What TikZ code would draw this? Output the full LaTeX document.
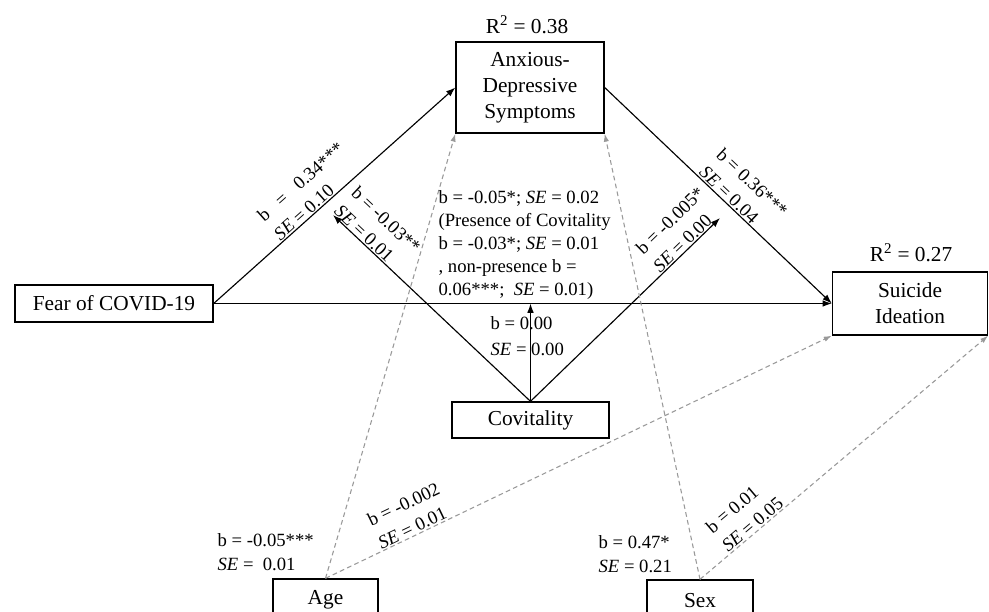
\documentclass[tikz,border=0pt]{standalone}
\usepackage{fontspec}
\setmainfont{Liberation Serif}
\usetikzlibrary{arrows.meta}
\definecolor{dgray}{HTML}{999999}
\newcommand{\boxfont}{\fontsize{16}{19.5}\selectfont}
\newcommand{\labfont}{\fontsize{14}{18.5}\selectfont}
\begin{document}
\begin{tikzpicture}[x=0.75pt,y=-0.75pt,
  box/.style={draw,line width=1pt,inner sep=0pt,align=center,font=\boxfont},
  lab/.style={font=\labfont,align=left,inner sep=1pt},
  conn/.style={line width=0.85pt,-{Latex[length=7pt,width=5pt]}},
  ctrl/.style={dgray,line width=0.8pt,dash pattern=on 3.5pt off 2.5pt,-{Latex[length=6pt,width=4pt]}}]
\clip (0,0) rectangle (989,611);
\fill[white] (0,0) rectangle (989,611);
% boxes
\node[box,minimum width=148.5pt,minimum height=27.75pt] (fear) at (114,303.5) {Fear of COVID-19};
\node[box,minimum width=111pt,minimum height=68.25pt] (anx) at (530,87.5) {Anxious-\\Depressive\\Symptoms};
\node[box,minimum width=116.25pt,minimum height=47.25pt] (sui) at (910,303.5) {Suicide\\Ideation};
\node[box,minimum width=117.75pt,minimum height=27pt] (cov) at (530.5,420) {Covitality};
\node[box,minimum width=78.75pt,minimum height=30.75pt] (age) at (325.5,599.5) {Age};
\node[box,minimum width=79.5pt,minimum height=30.75pt] (sex) at (700,600.5) {Sex};
\node[font=\boxfont] (r1) at (527,25) {R\textsuperscript{2} = 0.38};
\node[font=\boxfont] (r2) at (911,253) {R\textsuperscript{2} = 0.27};
% free ends
\coordinate (tipL) at (333,215);
\coordinate (tipR) at (720,218);
\coordinate (tipM) at (cov.north |- fear.east);
% connectors
\draw[conn] (fear.east) -- (anx.west);
\draw[conn] (fear.east) -- (sui.west);
\draw[conn] (anx.east) -- (sui.west);
\draw[conn] (cov.north) -- (tipL);
\draw[conn] (cov.north) -- (tipM);
\draw[conn] (cov.north) -- (tipR);
\draw[ctrl] (age.north) -- (anx.south west);
\draw[ctrl] (age.north) -- (sui.south west);
\draw[ctrl] (sex.north) -- (anx.south east);
\draw[ctrl] (sex.north) -- (sui.south east);
% labels
\path (fear.east) -- (anx.west) node[lab,sloped,above,pos=0.45] (l1) {b\ \ \ =\ \ \ 0.34***\\\textit{SE} = 0.10};
\path (tipL) -- (cov.north) node[lab,sloped,above,pos=0.155] (l2) {b = -0.03**\\\textit{SE} = 0.01};
\path (cov.north) -- (tipR) node[lab,sloped,above,pos=0.857] (l4) {b = -0.005*\\\textit{SE} = 0.00};
\path (anx.east) -- (sui.west) node[lab,sloped,above,pos=0.55] (l5) {b = 0.36***\\\textit{SE} = 0.04};
\path (age.north) -- (sui.south west) node[lab,sloped,above,pos=0.182] (l8) {b = -0.002\\\textit{SE} = 0.01};
\path (sex.north) -- (sui.south east) node[lab,sloped,above,pos=0.2] (l10) {b = 0.01\\\textit{SE} = 0.05};
\node[lab,anchor=west,font=\fontsize{14}{17.25}\selectfont] (l3) at (437,245) {b = -0.05*; \textit{SE} = 0.02\\(Presence of Covitality\\b = -0.03*; \textit{SE} = 0.01\\, non-presence b =\\0.06***;\ \ \textit{SE} = 0.01)};
\node[lab,anchor=west,font=\fontsize{14}{19.5}\selectfont] (l6) at (489,336) {b = 0.00\\\textit{SE} = 0.00};
\node[lab,anchor=west] (l7) at (216,552) {b = -0.05***\\\textit{SE} =\ \ 0.01};
\node[lab,anchor=west] (l9) at (597,554) {b = 0.47*\\\textit{SE} = 0.21};
\end{tikzpicture}
\end{document}
